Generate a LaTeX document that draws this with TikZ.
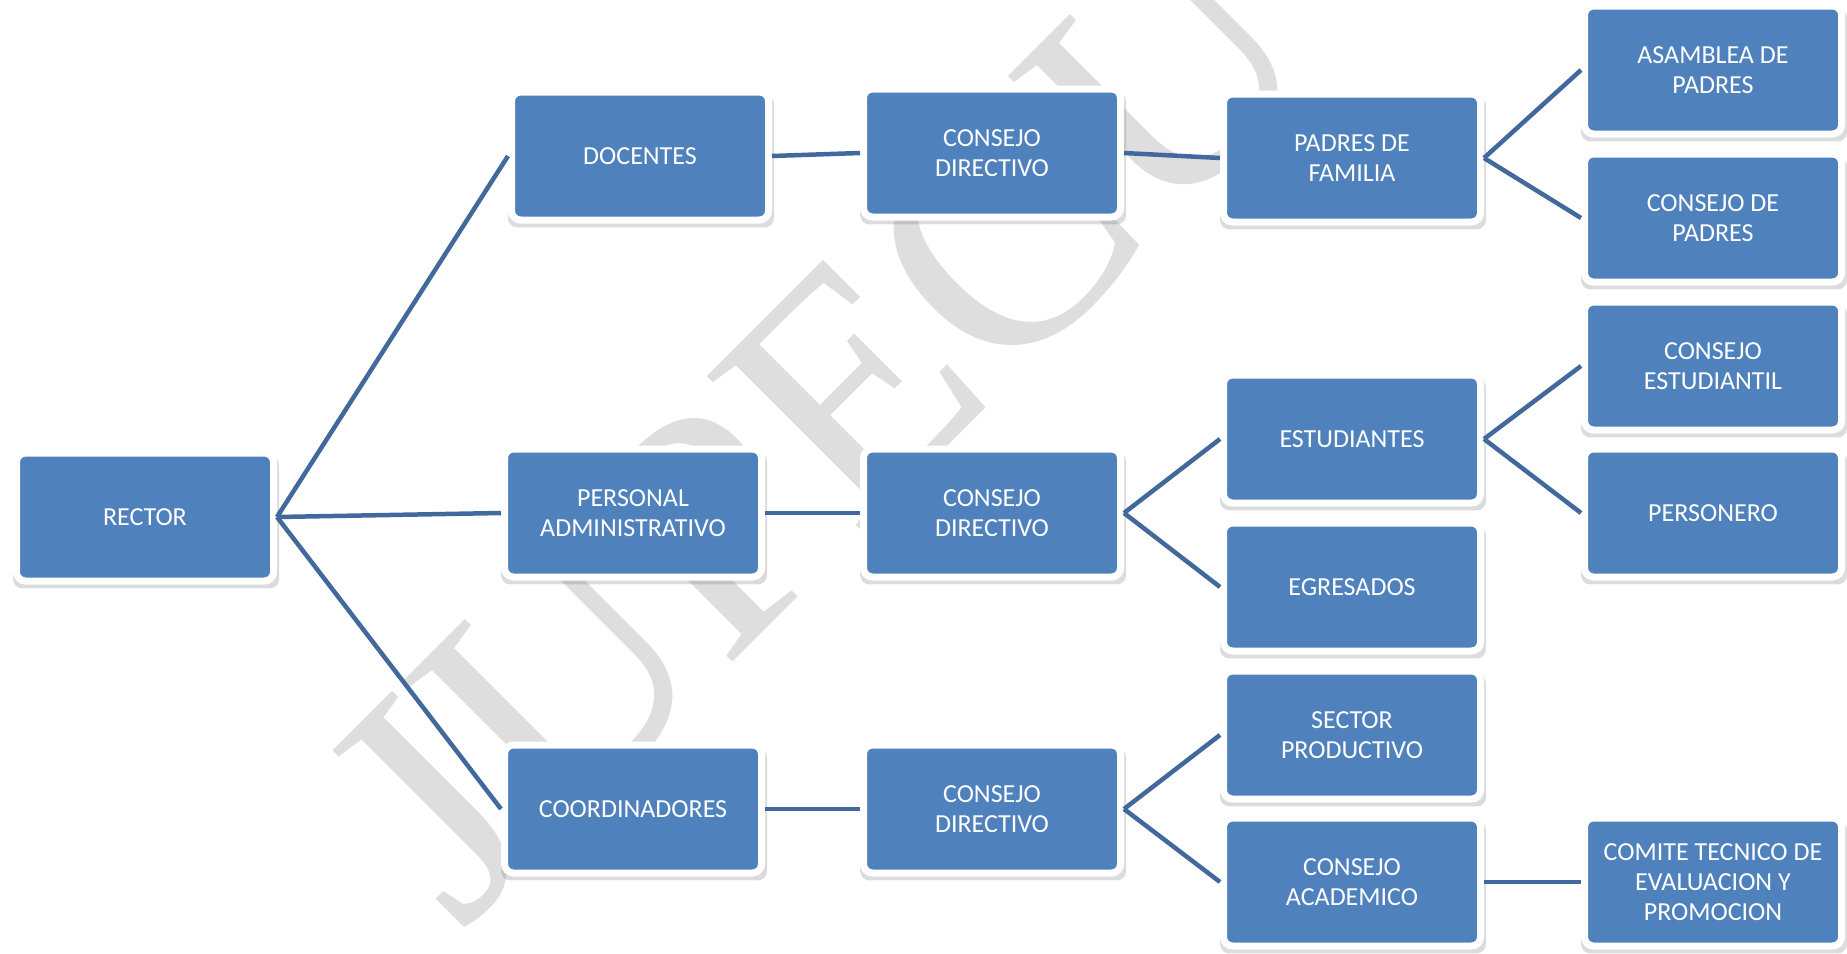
\documentclass[tikz,border=0pt]{standalone}
\usepackage{fontspec}
\setmainfont{Carlito}
\newfontfamily\wmfont{Liberation Serif}
\usetikzlibrary{shadows}
\definecolor{boxblue}{RGB}{79,129,189}
\definecolor{linkblue}{RGB}{65,105,156}
\definecolor{wmgray}{RGB}{222,222,222}
\tikzset{
  orgbox/.style={rectangle, rounded corners=9pt, fill=boxblue, draw=white, line width=7pt,
    minimum width=257pt, minimum height=128pt, inner sep=2pt, text=white, align=center,
    font=\fontsize{26}{30}\selectfont,
    drop shadow={opacity=0.28, shadow scale=1.035, shadow xshift=1pt, shadow yshift=-5pt}},
  link/.style={draw=linkblue, line width=4.5pt}
}
\begin{document}
\begin{tikzpicture}[x=1pt,y=-1pt]
\useasboundingbox (0,0) rectangle (1847,953);
% watermark
\node[text=wmgray, font=\wmfont\fontsize{335}{335}\selectfont, rotate=45, inner sep=0pt] (wm) at (818,422) {JUPECU};
% boxes
\node[orgbox] (rector) at (145,517) {RECTOR};
\node[orgbox] (doc) at (640,156) {DOCENTES};
\node[orgbox] (cd1) at (992,153) {CONSEJO\\DIRECTIVO};
\node[orgbox] (pf) at (1352,158) {PADRES DE\\FAMILIA};
\node[orgbox] (asam) at (1713,70) {ASAMBLEA DE\\PADRES};
\node[orgbox] (cpad) at (1713,218) {CONSEJO DE\\PADRES};
\node[orgbox] (cest) at (1713,366) {CONSEJO\\ESTUDIANTIL};
\node[orgbox] (pers) at (1713,513) {PERSONERO};
\node[orgbox] (estu) at (1352,439) {ESTUDIANTES};
\node[orgbox] (egre) at (1352,587) {EGRESADOS};
\node[orgbox] (padm) at (633,513) {PERSONAL\\ADMINISTRATIVO};
\node[orgbox] (cd2) at (992,513) {CONSEJO\\DIRECTIVO};
\node[orgbox] (coord) at (633,809) {COORDINADORES};
\node[orgbox] (cd3) at (992,809) {CONSEJO\\DIRECTIVO};
\node[orgbox] (sect) at (1352,735) {SECTOR\\PRODUCTIVO};
\node[orgbox] (acad) at (1352,882) {CONSEJO\\ACADEMICO};
\node[orgbox] (comi) at (1713,882) {COMITE TECNICO DE\\EVALUACION Y\\PROMOCION};
% connectors
\draw[link] (rector.east) -- (doc.west);
\draw[link] (rector.east) -- (padm.west);
\draw[link] (rector.east) -- (coord.west);
\draw[link] (doc.east) -- (cd1.west);
\draw[link] (cd1.east) -- (pf.west);
\draw[link] (pf.east) -- (asam.west);
\draw[link] (pf.east) -- (cpad.west);
\draw[link] (padm.east) -- (cd2.west);
\draw[link] (cd2.east) -- (estu.west);
\draw[link] (cd2.east) -- (egre.west);
\draw[link] (estu.east) -- (cest.west);
\draw[link] (estu.east) -- (pers.west);
\draw[link] (coord.east) -- (cd3.west);
\draw[link] (cd3.east) -- (sect.west);
\draw[link] (cd3.east) -- (acad.west);
\draw[link] (acad.east) -- (comi.west);
\end{tikzpicture}
\end{document}
